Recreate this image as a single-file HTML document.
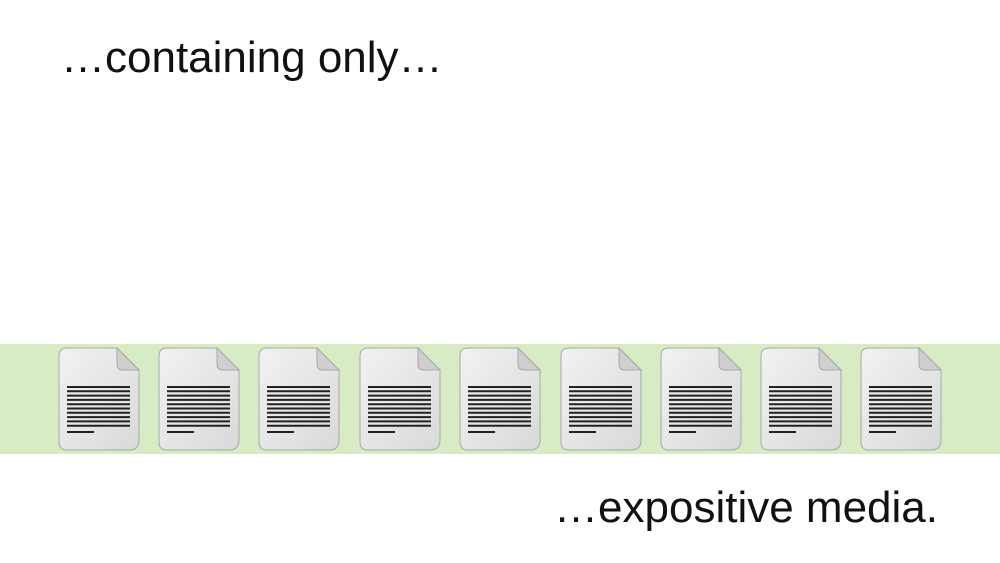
<!DOCTYPE html>
<html><head><style>
body{margin:0;width:1000px;height:563px;background:#fff;position:relative;overflow:hidden;font-family:"Liberation Sans",sans-serif;}
.t{position:absolute;color:#111;font-size:44px;white-space:nowrap;}
.band{position:absolute;left:0;top:344px;width:1000px;height:110px;background:#d7ebc4;}
svg{position:absolute;left:0;top:0}
</style></head><body>
<div class="t" style="left:61px;top:33px;">…containing only…</div>
<div class="t" style="right:62px;top:483px;">…expositive media.</div>
<div class="band"></div>
<svg width="1000" height="563">
<defs>
<linearGradient id="g" x1="0" y1="0" x2="1" y2="1"><stop offset="0" stop-color="#f2f2f2"/><stop offset="1" stop-color="#d9d9d9"/></linearGradient>
<g id="doc">
<path d="M8,0 H58 L80,22 V92 Q80,102 70,102 H8 Q0,102 0,94 V8 Q0,0 8,0Z" fill="url(#g)" stroke="#a8a8a8" stroke-width="1"/>
<path d="M58,0 V16 Q58,22 64,22 H80Z" fill="#cfcfcf" stroke="#a8a8a8" stroke-width="1"/>
<g stroke="#222" stroke-width="2">
<line x1="8" y1="39" x2="71" y2="39"/><line x1="8" y1="43.3" x2="71" y2="43.3"/><line x1="8" y1="47.6" x2="71" y2="47.6"/><line x1="8" y1="51.9" x2="71" y2="51.9"/><line x1="8" y1="56.2" x2="71" y2="56.2"/><line x1="8" y1="60.5" x2="71" y2="60.5"/><line x1="8" y1="64.8" x2="71" y2="64.8"/><line x1="8" y1="69.1" x2="71" y2="69.1"/><line x1="8" y1="73.4" x2="71" y2="73.4"/><line x1="8" y1="77.7" x2="71" y2="77.7"/><line x1="8" y1="84" x2="35" y2="84"/>
</g></g></defs>
<use href="#doc" x="59" y="348"/><use href="#doc" x="159" y="348"/><use href="#doc" x="259" y="348"/><use href="#doc" x="360" y="348"/><use href="#doc" x="460" y="348"/><use href="#doc" x="561" y="348"/><use href="#doc" x="661" y="348"/><use href="#doc" x="761" y="348"/><use href="#doc" x="861" y="348"/>
</svg>
</body></html>
